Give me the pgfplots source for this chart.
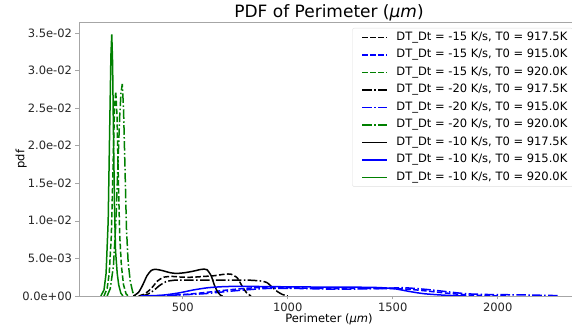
\documentclass[border=0pt]{standalone}
\usepackage{fontspec}
\setmainfont{DejaVu Sans}
\usepackage{pgfplots}
\pgfplotsset{compat=1.18}
\definecolor{mgreen}{HTML}{008000}
\definecolor{mblue}{HTML}{0000FF}
\tikzset{
  dsh/.style={line width=1.5pt, dash pattern=on 5.55pt off 2.4pt},
  dshdot/.style={line width=1.5pt, dash pattern=on 9.6pt off 2.4pt on 1.5pt off 2.4pt},
  sld/.style={line width=1.5pt, solid},
}
\begin{document}
\begin{tikzpicture}[x=1pt,y=1pt]
\begin{axis}[
  scale only axis, width=500pt, height=274pt,
  xmin=6, xmax=2387, ymin=0, ymax=0.03644,
  axis line style={draw=gray!70, line width=0.6pt},
  tick style={draw=gray!70, line width=0.6pt},
  tick align=outside, tick pos=left, major tick length=3.5pt,
  xtick={500,1000,1500,2000},
  ytick={0,0.005,0.01,0.015,0.02,0.025,0.03,0.035},
  yticklabels={0.0e+00,5.0e-03,1.0e-02,1.5e-02,2.0e-02,2.5e-02,3.0e-02,3.5e-02},
  scaled y ticks=false,
  /pgf/number format/assume math mode=true,
  /pgf/number format/1000 sep={},
  ticklabel style={font=\fontsize{11.5}{13}\selectfont, text=black!85},
  title={PDF of Perimeter (\textit{μm})},
  title style={font=\fontsize{17}{20}\selectfont, at={(axis description cs:0.5,0.9927)}, anchor=base},
  xlabel={Perimeter (\textit{μm})},
  xlabel style={font=\fontsize{11.5}{13}\selectfont, at={(axis description cs:0.5,-0.0949)}, anchor=base},
  ylabel={pdf},
  ylabel style={font=\fontsize{11.5}{13}\selectfont, at={(axis description cs:-0.1093,0.5)}, anchor=base},
  legend cell align=left,
  legend image code/.code={\path[draw=none,fill=none] (0pt,0pt) -- (38.5pt,0pt);\draw[#1] plot coordinates {(6pt,0pt) (18.5pt,0pt) (31pt,0pt)};},
  legend style={at={(axis description cs:1,1)}, anchor=north east, xshift=-6pt, yshift=-6pt,
    draw=gray!25, rounded corners=2pt, font=\fontsize{11.5}{13}\selectfont,
    row sep=5pt, inner xsep=4pt, inner ysep=3pt,
    nodes={inner sep=1.5pt, text height=7.5pt, text depth=2pt}},
]
% -15 K/s
\addplot[black, smooth, tension=0.4, dsh] coordinates {
 (290,0) (320,0.0003) (350,0.001) (380,0.002) (410,0.0025) (450,0.0026) (500,0.0025) (550,0.0025)
 (600,0.0026) (650,0.0027) (700,0.0029) (730,0.0029) (760,0.0024) (785,0.0012) (805,0.0004) (825,0)};
\addlegendentry{DT\_Dt = -15 K/s, T0 = 917.5K}
\addplot[mblue, smooth, tension=0.4, dsh] coordinates {
 (350,0) (450,0.0001) (550,0.0003) (650,0.0006) (750,0.0009) (850,0.0011) (1000,0.0011) (1200,0.001)
 (1400,0.001) (1550,0.00095) (1650,0.0007) (1750,0.0004) (1850,0.00015) (1950,0.00005) (2050,0)};
\addlegendentry{DT\_Dt = -15 K/s, T0 = 915.0K}
\addplot[mgreen, dsh] coordinates {
 (125,0) (140,0.001) (150,0.003) (160,0.008) (168,0.017) (175,0.025) (181,0.0272) (187,0.024)
 (193,0.016) (200,0.008) (208,0.004) (218,0.0015) (230,0.0003) (240,0)};
\addlegendentry{DT\_Dt = -15 K/s, T0 = 920.0K}
% -20 K/s
\addplot[black, smooth, tension=0.4, dshdot] coordinates {
 (300,0) (330,0.0002) (360,0.0007) (390,0.0014) (420,0.0019) (460,0.0021) (550,0.0021) (650,0.0021)
 (750,0.0021) (820,0.0021) (870,0.002) (900,0.0018) (925,0.0012) (950,0.0006) (975,0.0002) (1000,0)};
\addlegendentry{DT\_Dt = -20 K/s, T0 = 917.5K}
\addplot[mblue, smooth, tension=0.4, dshdot] coordinates {
 (350,0) (450,0.0001) (600,0.0003) (750,0.0007) (900,0.001) (1050,0.001) (1250,0.0009) (1450,0.001)
 (1550,0.0011) (1650,0.0009) (1750,0.0006) (1850,0.0003) (1950,0.0002) (2100,0.00015) (2200,0.0001) (2290,0.00005)};
\addlegendentry{DT\_Dt = -20 K/s, T0 = 915.0K}
\addplot[mgreen, dshdot] coordinates {
 (140,0) (155,0.001) (170,0.004) (182,0.01) (192,0.018) (200,0.024) (206,0.027) (212,0.0282)
 (218,0.025) (225,0.017) (232,0.009) (240,0.0045) (250,0.002) (262,0.0005) (275,0)};
\addlegendentry{DT\_Dt = -20 K/s, T0 = 920.0K}
% -10 K/s
\addplot[black, smooth, tension=0.4, sld] coordinates {
 (265,0) (290,0.0005) (310,0.0015) (330,0.0027) (350,0.0034) (370,0.00355) (400,0.0034) (440,0.0031)
 (470,0.0030) (510,0.0031) (550,0.0033) (590,0.00355) (615,0.0035) (635,0.0027) (650,0.0015)
 (665,0.0006) (680,0.0001) (690,0)};
\addlegendentry{DT\_Dt = -10 K/s, T0 = 917.5K}
\addplot[mblue, smooth, tension=0.4, sld] coordinates {
 (300,0) (400,0.0001) (480,0.0004) (550,0.0008) (620,0.0011) (700,0.00125) (800,0.00128) (1000,0.00122)
 (1200,0.00118) (1400,0.00115) (1500,0.001) (1580,0.0006) (1650,0.0003) (1750,0.0001) (1850,0)};
\addlegendentry{DT\_Dt = -10 K/s, T0 = 915.0K}
\addplot[mgreen, sld] coordinates {
 (110,0) (125,0.0008) (135,0.003) (145,0.01) (152,0.022) (158,0.032) (162,0.0348) (166,0.031)
 (170,0.022) (175,0.012) (180,0.006) (188,0.003) (195,0.0015) (205,0.0004) (215,0)};
\addlegendentry{DT\_Dt = -10 K/s, T0 = 920.0K}
\end{axis}
\pgfresetboundingbox
\path[use as bounding box] (-79,-35) rectangle (493,296);
\end{tikzpicture}
\end{document}
